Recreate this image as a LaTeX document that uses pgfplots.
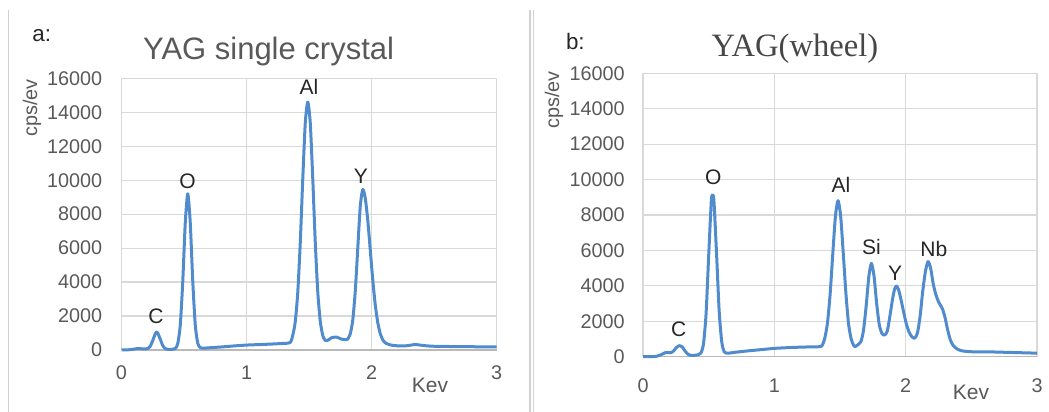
\documentclass[border=0pt]{standalone}
\usepackage{pgfplots}
\pgfplotsset{compat=1.18}
\usepackage{fontspec}
\setmainfont{Liberation Sans}
\newfontfamily\seriffont{Liberation Serif}
\definecolor{curve}{RGB}{80,140,205}
\definecolor{tickgray}{RGB}{89,89,89}
\definecolor{gridgray}{RGB}{217,217,217}
\definecolor{labblack}{RGB}{38,38,38}

\pgfplotstableread{
x y
0 0
0.05 10
0.10 50
0.13 90
0.16 70
0.19 60
0.21 90
0.23 220
0.25 560
0.27 950
0.28 1060
0.29 1000
0.31 640
0.33 260
0.35 80
0.37 40
0.40 40
0.43 90
0.45 370
0.47 1450
0.49 4020
0.51 7470
0.53 9200
0.55 7500
0.57 4060
0.59 1480
0.61 400
0.63 140
0.66 110
0.70 130
0.80 180
0.90 240
1.00 290
1.10 320
1.20 350
1.30 390
1.35 440
1.37 860
1.39 1660
1.41 3380
1.43 6310
1.45 10050
1.47 13350
1.49 14600
1.51 13380
1.53 10100
1.55 6360
1.57 3430
1.59 1700
1.61 850
1.63 560
1.65 570
1.68 720
1.72 760
1.76 640
1.80 610
1.81 650
1.83 950
1.85 1760
1.87 3450
1.89 5980
1.91 8450
1.93 9450
1.95 8950
1.97 7640
1.99 5900
2.01 4130
2.03 2660
2.05 1620
2.07 960
2.09 600
2.11 420
2.15 300
2.20 250
2.28 250
2.35 320
2.42 260
2.50 220
2.70 200
3.00 180
}\dataA

\pgfplotstableread{
x y
0 0
0.05 0
0.10 20
0.14 120
0.17 230
0.19 240
0.21 220
0.23 300
0.25 480
0.27 610
0.28 620
0.30 540
0.32 320
0.34 150
0.36 80
0.39 80
0.42 110
0.44 200
0.46 700
0.48 2400
0.50 5700
0.52 8800
0.53 9130
0.54 8800
0.56 5800
0.58 2550
0.60 800
0.62 260
0.65 200
0.70 250
0.80 330
0.90 400
1.00 470
1.10 510
1.20 540
1.30 560
1.36 600
1.385 1080
1.405 1940
1.425 3560
1.445 5815
1.465 7930
1.485 8810
1.505 7930
1.525 5815
1.545 3560
1.565 1850
1.585 1000
1.600 700
1.612 570
1.630 640
1.659 850
1.679 1500
1.699 2850
1.719 4500
1.739 5270
1.759 4550
1.779 3000
1.799 1800
1.82 1300
1.84 1225
1.86 1450
1.88 2300
1.90 3250
1.915 3800
1.929 3990
1.945 3800
1.965 3200
1.985 2500
2.005 1850
2.025 1400
2.045 1150
2.068 1040
2.09 1350
2.11 2300
2.13 3700
2.15 4800
2.17 5370
2.19 5000
2.21 4100
2.23 3500
2.25 3100
2.28 2700
2.30 2200
2.32 1500
2.34 950
2.36 650
2.39 440
2.43 330
2.50 280
2.65 270
2.75 250
3.00 200
}\dataB

\pgfplotsset{myax/.style={
  scale only axis, clip=false,
  xmin=0, xmax=3, ymin=0, ymax=16000,
  xtick={0,1,2,3}, ytick={0,2000,...,16000},
  grid=major, major grid style={gridgray, line width=0.6bp},
  axis line style={draw=none},
  tick style={draw=none}, major tick length=0pt,
  scaled y ticks=false,
  /pgf/number format/assume math mode=true,
  /pgf/number format/set thousands separator={},
  tick label style={font=\fontsize{9.9bp}{11bp}\selectfont, text=tickgray, inner sep=0pt},
}}

\begin{document}
\begin{tikzpicture}[x=0.5bp,y=-0.5bp]
\useasboundingbox (0,0) rectangle (1049,412);
\draw[gray!35, line width=0.7bp] (8.4,10) -- (8.4,412);
\draw[gray!35, line width=0.7bp] (530,10) -- (530,412);
\draw[gray!35, line width=0.7bp] (533.5,10) -- (533.5,412);

% panel a
\begin{axis}[myax, at={(60.75bp,-175bp)}, anchor=south west,
  width=187.5bp, height=135.85bp,
  xticklabel style={anchor=center, yshift=-11.5bp},
  yticklabel style={anchor=east, xshift=-9.5bp},
  extra y ticks={0}, extra y tick labels={},
  extra y tick style={major grid style={color=gray!55, line width=0.7bp}}]
\addplot[curve, line width=1.5bp, smooth, tension=0.4, line join=round] table[x=x,y=y] {\dataA};
\end{axis}

% panel b
\begin{axis}[myax, at={(321.5bp,-178.35bp)}, anchor=south west,
  width=197bp, height=141.7bp,
  xticklabel style={anchor=center, yshift=-14.65bp},
  yticklabel style={anchor=east, xshift=-9bp},
  extra y ticks={0}, extra y tick labels={},
  extra y tick style={major grid style={color=gray!55, line width=0.7bp}}]
\addplot[curve, line width=1.5bp, smooth, tension=0.4, line join=round] table[x=x,y=y] {\dataB};
\end{axis}

% titles and panel letters
\node[anchor=base, font=\fontsize{15.5bp}{18bp}\selectfont, text=tickgray] at (268.6,59.3) {YAG single crystal};
\node[anchor=base, font=\seriffont\fontsize{16.3bp}{19bp}\selectfont, text=tickgray!80!black] at (795,56.7) {YAG(wheel)};
\node[anchor=base west, inner sep=0pt, font=\fontsize{11.2bp}{13bp}\selectfont, text=labblack] at (32,41.7) {a:};
\node[anchor=base west, inner sep=0pt, font=\fontsize{11.2bp}{13bp}\selectfont, text=labblack] at (565.6,49.3) {b:};

% axis labels
\node[rotate=90, font=\fontsize{9.9bp}{11bp}\selectfont, text=tickgray] at (32,108) {cps/ev};
\node[rotate=90, font=\fontsize{9.9bp}{11bp}\selectfont, text=tickgray] at (554,100) {cps/ev};
\node[anchor=base, font=\fontsize{10.5bp}{12bp}\selectfont, text=tickgray] at (430,392.7) {Kev};
\node[anchor=base, font=\fontsize{10.5bp}{12bp}\selectfont, text=tickgray] at (971,400) {Kev};

% peak labels
\begin{scope}[every node/.style={anchor=base, font=\fontsize{10.5bp}{12bp}\selectfont, text=labblack}]
\node at (156,324) {C};
\node at (187.5,189) {O};
\node at (309,95) {Al};
\node at (360.8,183.5) {Y};
\node at (678.8,336.5) {C};
\node at (713.2,185) {O};
\node at (841,192.5) {Al};
\node at (871.4,254.5) {Si};
\node at (895,281) {Y};
\node at (933.9,256.5) {Nb};
\end{scope}
\end{tikzpicture}
\end{document}
